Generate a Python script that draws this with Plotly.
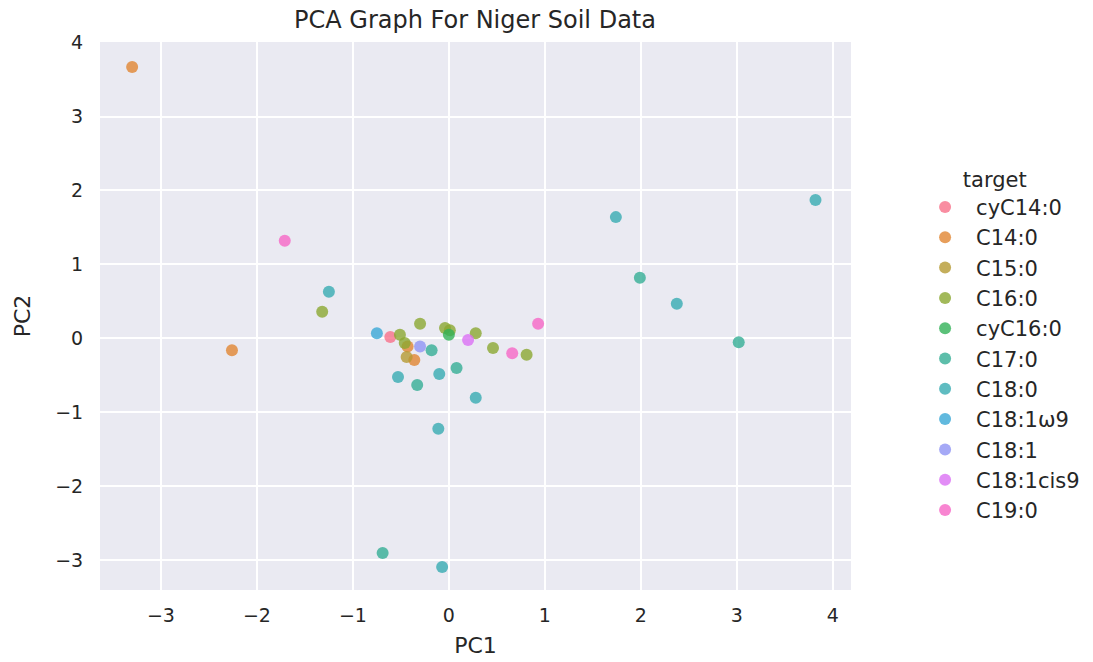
import math
import plotly.graph_objects as go

# ---------------- data ----------------
targets = ["cyC14:0", "C14:0", "C15:0", "C16:0", "cyC16:0", "C17:0",
           "C18:0", "C18:1ω9", "C18:1", "C18:1cis9", "C19:0"]

pc1_cyC14_0 = [-0.61]
pc2_cyC14_0 = [0.02]
pc1_C14_0 = [-3.30, -2.26, -0.43, -0.36]
pc2_C14_0 = [3.67, -0.16, -0.11, -0.29]
pc1_C15_0 = [-0.44]
pc2_C15_0 = [-0.25]
pc1_C16_0 = [-1.32, -0.51, -0.46, -0.30, -0.04, 0.01, 0.28, 0.46, 0.81]
pc2_C16_0 = [0.36, 0.05, -0.06, 0.20, 0.14, 0.11, 0.07, -0.13, -0.22]
pc1_cyC16_0 = [0.00]
pc2_cyC16_0 = [0.05]
pc1_C17_0 = [-0.18, -0.33, 0.08, -0.69, 1.99, 3.02]
pc2_C17_0 = [-0.16, -0.63, -0.40, -2.90, 0.82, -0.05]
pc1_C18_0 = [-1.25, -0.53, -0.10, 0.28, -0.11, -0.07, 1.74, 2.375, 3.82]
pc2_C18_0 = [0.63, -0.52, -0.48, -0.80, -1.22, -3.09, 1.64, 0.47, 1.87]
pc1_C18_1w9 = [-0.75]
pc2_C18_1w9 = [0.07]
pc1_C18_1 = [-0.30]
pc2_C18_1 = [-0.11]
pc1_C18_1cis9 = [0.20]
pc2_C18_1cis9 = [-0.02]
pc1_C19_0 = [-1.71, 0.93, 0.66]
pc2_C19_0 = [1.32, 0.20, -0.20]

series = [
    (pc1_cyC14_0, pc2_cyC14_0), (pc1_C14_0, pc2_C14_0), (pc1_C15_0, pc2_C15_0),
    (pc1_C16_0, pc2_C16_0), (pc1_cyC16_0, pc2_cyC16_0), (pc1_C17_0, pc2_C17_0),
    (pc1_C18_0, pc2_C18_0), (pc1_C18_1w9, pc2_C18_1w9), (pc1_C18_1, pc2_C18_1),
    (pc1_C18_1cis9, pc2_C18_1cis9), (pc1_C19_0, pc2_C19_0),
]

x_ticks = [-3, -2, -1, 0, 1, 2, 3, 4]
y_ticks = [-3, -2, -1, 0, 1, 2, 3, 4]

# ---------------- husl palette (seaborn style) ----------------
_m = [[3.2406, -1.5372, -0.4986], [-0.9689, 1.8758, 0.0415], [0.0557, -0.2040, 1.0570]]
_refY, _refU, _refV = 1.0, 0.19784, 0.46834
_kappa, _eps = 903.3, 0.008856


def _max_chroma(L, H):
    hrad = math.radians(H)
    sinH, cosH = math.sin(hrad), math.cos(hrad)
    sub1 = (L + 16) ** 3 / 1560896.0
    sub2 = sub1 if sub1 > _eps else L / _kappa
    res = float("inf")
    for m1, m2, m3 in _m:
        top = (0.99915 * m1 + 1.05122 * m2 + 1.14460 * m3) * sub2
        rb = 0.86330 * m3 - 0.17266 * m2
        lb = 0.12949 * m3 - 0.38848 * m1
        bottom = (rb * sinH + lb * cosH) * sub2
        for t in (0.0, 1.0):
            C = L * (top - 1.05122 * t) / (bottom + 0.17266 * sinH * t)
            if 0 < C < res:
                res = C
    return res


def _f_inv(t):
    return _refY * t ** 3 if t ** 3 > _eps else _refY * (116 * t - 16) / _kappa


def _from_linear(c):
    return 12.92 * c if c <= 0.0031308 else 1.055 * c ** (1 / 2.4) - 0.055


def husl_to_rgb(h, s, l):
    C = _max_chroma(l, h) / 100.0 * s
    hrad = math.radians(h)
    U, V = C * math.cos(hrad), C * math.sin(hrad)
    Y = _f_inv((l + 16) / 116.0)
    varU = U / (13 * l) + _refU
    varV = V / (13 * l) + _refV
    X = 0 - (9 * Y * varU) / ((varU - 4) * varV - varU * varV)
    Z = (9 * Y - 15 * varV * Y - varV * X) / (3 * varV)
    rgb = [_from_linear(r[0] * X + r[1] * Y + r[2] * Z) for r in _m]
    return [min(1, max(0, c)) for c in rgb]


def husl_palette(n, h=0.01, s=0.9, l=0.65):
    out = []
    for i in range(n):
        hue = ((i / n) + h) % 1 * 359
        r, g, b = husl_to_rgb(hue, s * 99, l * 99)
        out.append("rgb(%d,%d,%d)" % (round(r * 255), round(g * 255), round(b * 255)))
    return out


colors = husl_palette(len(targets))

# ---------------- figure ----------------
fig = go.Figure()
for name, (xs, ys), col in zip(targets, series, colors):
    fig.add_trace(go.Scatter(
        x=xs, y=ys, mode="markers", name=name,
        marker=dict(size=12, color=col, opacity=0.8, line=dict(width=0)),
    ))

FONT = "DejaVu Sans"
TXT = "#262626"
NB = "\u00a0"
fig.update_layout(
    width=1093, height=662,
    margin=dict(l=100, r=242, t=42, b=72, autoexpand=False),
    paper_bgcolor="white", plot_bgcolor="#EAEAF2",
    font=dict(family=FONT, color=TXT, size=20),
    title=dict(text="PCA Graph For Niger Soil Data", x=475 / 1093,
               xanchor="center", y=1 - 20 / 662, yanchor="middle",
               font=dict(size=24, family=FONT, color=TXT)),
    legend=dict(
        title=dict(text=NB * 7 + "target", font=dict(size=21, family=FONT, color=TXT)),
        font=dict(size=21, family=FONT, color=TXT),
        x=1.084, xanchor="left", y=0.447, yanchor="middle",
        bgcolor="rgba(0,0,0,0)", itemwidth=52,
    ),
    xaxis=dict(
        range=[-3.635, 4.19], tickvals=x_ticks, ticktext=[str(v).replace("-", "−") for v in x_ticks],
        showgrid=True, gridcolor="white", gridwidth=1.5, zeroline=False, showline=False,
        ticks="outside", ticklen=8, tickcolor="rgba(0,0,0,0)",
        title=dict(text="PC1", font=dict(size=22, family=FONT, color=TXT), standoff=12),
        tickfont=dict(size=19, family=FONT, color=TXT),
    ),
    yaxis=dict(
        range=[-3.40, 4.007], tickvals=y_ticks, ticktext=[str(v).replace("-", "−") for v in y_ticks],
        showgrid=True, gridcolor="white", gridwidth=1.5, zeroline=False, showline=False,
        ticks="outside", ticklen=12, tickcolor="rgba(0,0,0,0)",
        title=dict(text="PC2", font=dict(size=22, family=FONT, color=TXT), standoff=18),
        tickfont=dict(size=19, family=FONT, color=TXT),
    ),
)

fig.write_html("out.html")
